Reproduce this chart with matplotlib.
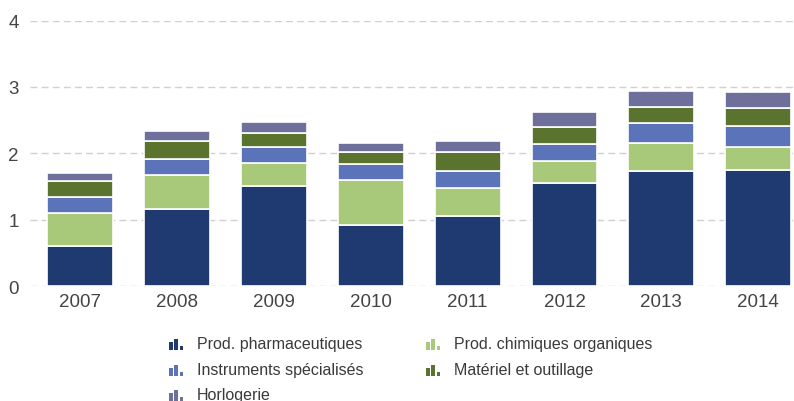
import matplotlib.pyplot as plt
from matplotlib.patches import Rectangle
import numpy as np

plt.rcParams['font.family'] = ['Liberation Sans', 'DejaVu Sans']

# Data
years = ['2007', '2008', '2009', '2010', '2011', '2012', '2013', '2014']
pharma = [0.60, 1.16, 1.50, 0.92, 1.06, 1.55, 1.73, 1.75]
chimie = [0.50, 0.51, 0.35, 0.67, 0.42, 0.33, 0.43, 0.34]
instruments = [0.24, 0.24, 0.24, 0.25, 0.25, 0.26, 0.30, 0.32]
materiel = [0.24, 0.28, 0.22, 0.18, 0.29, 0.26, 0.24, 0.27]
horlogerie = [0.12, 0.14, 0.16, 0.14, 0.16, 0.22, 0.24, 0.24]

labels = ['Prod. pharmaceutiques', 'Prod. chimiques organiques',
          'Instruments spécialisés', 'Matériel et outillage', 'Horlogerie']
colors = ['#1F3A70', '#A9C97A', '#5B73B8', '#5A7430', '#6F6F9B']
series = [pharma, chimie, instruments, materiel, horlogerie]

W, H = 794, 402
fig = plt.figure(figsize=(W / 100, H / 100), dpi=100)
ax = fig.add_axes([30 / W, 1 - 287 / H, 1 - 30 / W, (287 - 21.5) / H])

x = np.arange(len(years))
bottom = np.zeros(len(years))
for vals, col in zip(series, colors):
    ax.bar(x, vals, width=0.68, bottom=bottom, color=col,
           edgecolor='white', linewidth=1.2, zorder=3)
    bottom += np.array(vals)

ax.set_xlim(-0.52, 7.37)
ax.set_ylim(0, 4)
ax.set_yticks([0, 1, 2, 3, 4])
ax.set_xticks(x)
ax.set_xticklabels(years)
ax.tick_params(axis='both', length=0, labelsize=13.5, colors='#444444')
ax.tick_params(axis='y', pad=8)
ax.tick_params(axis='x', pad=5)
ax.grid(axis='y', color='#D0D0D0', linestyle=(0, (5, 3)), linewidth=1, zorder=0)
for s in ax.spines.values():
    s.set_visible(False)


# Legend drawn by hand: small bar-chart glyph + label
def icon(px, py, col):
    # px: left, py: bottom, in pixels measured from the top
    for dx, w, h in [(0, 4, 8), (5.3, 4, 11.5), (10.6, 3.4, 4)]:
        fig.patches.append(Rectangle(((px + dx) / W, 1 - py / H), w / W, h / H,
                                     transform=fig.transFigure, color=col,
                                     linewidth=0))


rows = [345, 371, 396]
pos = [(169, rows[0]), (426, rows[0]), (169, rows[1]), (426, rows[1]), (169, rows[2])]
for (px, py), lab, col in zip(pos, labels, colors):
    icon(px, py + 6, col)
    fig.text((px + 28) / W, 1 - py / H, lab, fontsize=11.5, color='#3A3A3A',
             va='center', ha='left')

fig.savefig('out.png', dpi=100)
